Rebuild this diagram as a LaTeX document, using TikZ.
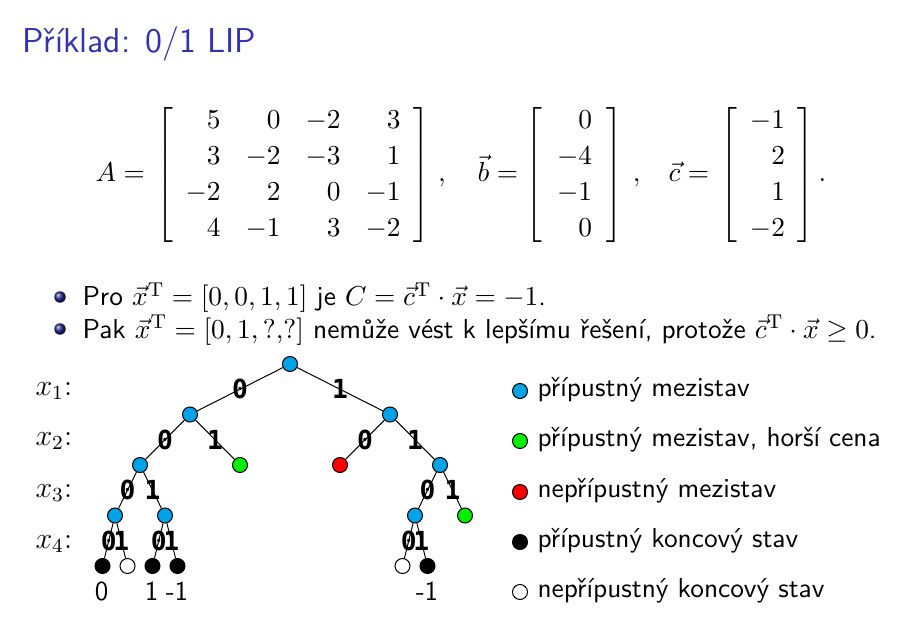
\RequirePackage{fix-cm}
\documentclass[tikz,border=0pt]{standalone}
\usepackage{fontspec}
\newfontfamily\edgefont{DejaVu Sans Mono}
\usetikzlibrary{shadings}

\definecolor{titleblue}{rgb}{0.2,0.2,0.7}
\definecolor{ballblue}{rgb}{0.15,0.15,0.55}
\definecolor{nodeblue}{RGB}{0,162,232}
\definecolor{nodegreen}{RGB}{0,240,0}
\definecolor{nodered}{RGB}{255,0,0}

\begin{document}
\begin{tikzpicture}[x=0.4pt,y=-0.4pt,
  state/.style={circle, draw=black, line width=0.4pt, minimum size=6pt, inner sep=0pt},
  midok/.style={state, fill=nodeblue},
  midworse/.style={state, fill=nodegreen},
  midbad/.style={state, fill=nodered},
  endok/.style={state, fill=black},
  endbad/.style={state, fill=white},
  elab/.style={font=\edgefont\bfseries\fontsize{10.5}{12}\selectfont, inner sep=0pt},
  edge/.style={draw=black, line width=0.4pt},
  body/.style={font=\sffamily\fontsize{10.95}{13.6}\selectfont, inner sep=0pt, anchor=base west},
  lvl/.style={font=\rmfamily\fontsize{12}{14}\selectfont, inner sep=0pt, anchor=base west},
  val/.style={font=\sffamily\fontsize{11}{13}\selectfont, inner sep=0pt, anchor=base},
  eqpart/.style={anchor=base west, inner sep=0pt, font=\fontsize{10.95}{13.6}\selectfont},
  bulletball/.style={ball color=ballblue},
]
\useasboundingbox (0,0) rectangle (920,639);

% frame title
\node[anchor=base west, inner sep=0pt, text=titleblue,
      font=\sffamily\fontsize{13.8}{16}\selectfont] (title) at (22,52.7) {Příklad: 0/1 LIP};

% problem data
\renewcommand{\arraystretch}{1.06}
\node[eqpart] (eqA) at (95,182)
 {$\displaystyle A=\mkern2.6mu\left[\begin{array}{rrrr}5&0&-2&3\\3&-2&-3&1\\-2&2&0&-1\\4&-1&3&-2\end{array}\right]\mkern2.5mu,$};
\node[eqpart] (eqB) at (477,182)
 {$\displaystyle \vec{b}=\left[\mkern1.5mu\begin{array}{r}0\\-4\\-1\\0\end{array}\mkern1.5mu\right]\mkern3mu,$};
\node[eqpart] (eqC) at (668,182)
 {$\displaystyle \vec{c}=\mkern2.6mu\left[\begin{array}{r}-1\\2\\1\\-2\end{array}\right].$};

% bullet points
\shade[bulletball] (60,297) circle [radius=2.3pt];
\node[body] (item1) at (82,306) {Pro $\vec{x}^{\mathrm{T}}=[0,0,1,1]$ je $C=\vec{c}^{\mathrm{T}}\cdot\vec{x}=-1$.};
\shade[bulletball] (60,329) circle [radius=2.3pt];
\node[body] (item2) at (82,338) {Pak $\vec{x}^{\mathrm{T}}=[0,1,\mbox{\rmfamily ?,?}]$ nemůže vést k lepšímu řešení, protože $\vec{c}^{\mathrm{T}}\cdot\vec{x}\geq 0$.};

% variable levels
\node[lvl] (l1) at (35,395) {$x_1$:};
\node[lvl] (l2) at (35,445) {$x_2$:};
\node[lvl] (l3) at (35,497) {$x_3$:};
\node[lvl] (l4) at (35,548) {$x_4$:};

% search tree
\node[midok]    (r)     at (290,364) {};
\node[midok]    (a0)    at (190,414.5) {};
\node[midok]    (a1)    at (390,414.5) {};
\node[midok]    (b00)   at (140,465) {};
\node[midworse] (b01)   at (240,465) {};
\node[midbad]   (b10)   at (340,465) {};
\node[midok]    (b11)   at (440,465) {};
\node[midok]    (c000)  at (115,515.5) {};
\node[midok]    (c001)  at (165,515.5) {};
\node[midok]    (c110)  at (415,515.5) {};
\node[midworse] (c111)  at (465,515.5) {};
\node[endok]    (d0000) at (102.5,566) {};
\node[endbad]   (d0001) at (127.5,566) {};
\node[endok]    (d0010) at (152.5,566) {};
\node[endok]    (d0011) at (177.5,566) {};
\node[endbad]   (d1100) at (402.5,566) {};
\node[endok]    (d1101) at (427.5,566) {};

\path[edge] (r) -- node[elab]{0} (a0);
\path[edge] (r) -- node[elab]{1} (a1);
\path[edge] (a0) -- node[elab]{0} (b00);
\path[edge] (a0) -- node[elab]{1} (b01);
\path[edge] (a1) -- node[elab]{0} (b10);
\path[edge] (a1) -- node[elab]{1} (b11);
\path[edge] (b00) -- node[elab]{0} (c000);
\path[edge] (b00) -- node[elab]{1} (c001);
\path[edge] (b11) -- node[elab]{0} (c110);
\path[edge] (b11) -- node[elab]{1} (c111);
\path[edge] (c000) -- node[elab]{0} (d0000);
\path[edge] (c000) -- node[elab]{1} (d0001);
\path[edge] (c001) -- node[elab]{0} (d0010);
\path[edge] (c001) -- node[elab]{1} (d0011);
\path[edge] (c110) -- node[elab]{0} (d1100);
\path[edge] (c110) -- node[elab]{1} (d1101);

% costs of the feasible leaves
\node[val] (v0000) at (101.5,600) {0};
\node[val] (v0010) at (151.5,600) {1};
\node[val] (v0011) at (177,600) {-1};
\node[val] (v1101) at (427,600) {-1};

% legend
\node[midok]    (k1) at (520,391) {};
\node[body] (t1) at (537,396) {přípustný mezistav};
\node[midworse] (k2) at (520,441) {};
\node[body] (t2) at (537,446) {přípustný mezistav, horší cena};
\node[midbad]   (k3) at (520,492) {};
\node[body] (t3) at (537,497) {nepřípustný mezistav};
\node[endok]    (k4) at (520,542) {};
\node[body] (t4) at (537,547) {přípustný koncový stav};
\node[endbad]   (k5) at (520,592) {};
\node[body] (t5) at (537,597) {nepřípustný koncový stav};
\end{tikzpicture}
\end{document}
